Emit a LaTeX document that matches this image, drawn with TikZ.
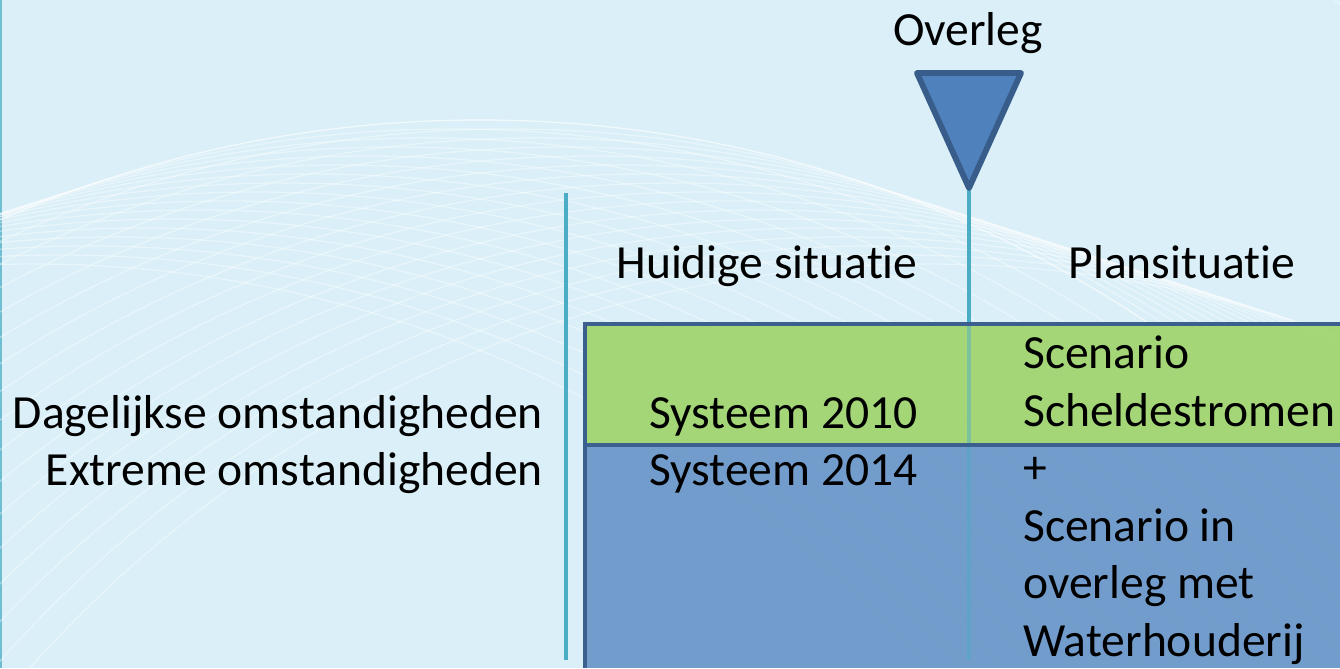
\documentclass[tikz,border=0pt]{standalone}
\usepackage{fontspec}
\setmainfont[RawFeature=-liga]{Carlito}
\usetikzlibrary{positioning}
\definecolor{bgblue}{HTML}{DAEFF7}
\definecolor{tealline}{HTML}{4BACC6}
\definecolor{rowgreen}{HTML}{A0D46E}
\definecolor{rowblue}{HTML}{6A96C8}
\definecolor{edgeblue}{HTML}{3B5F8F}
\definecolor{triblue}{HTML}{4F81BD}
\definecolor{triedge}{HTML}{385D8A}
\tikzset{x=0.03cm, y=-0.03cm,
    every node/.style={
        font=\fontsize{40.6}{49}\selectfont,
        inner sep=0pt},
    label/.style={anchor=base},
    celltext/.style={anchor=base west},
    mesh/.style={
        draw=white,
        opacity=0.4,
        line width=1.1pt},
    divider/.style={
        draw=tealline,
        line width=4.2pt},
    rowline/.style={
        draw=edgeblue,
        line width=3.6pt},
    marker/.style={
        fill=triblue,
        draw=triedge,
        line width=5pt,
        line join=round}}

\begin{document}
\begin{tikzpicture}
        \useasboundingbox (0,0) rectangle (1340,668);
        \fill[bgblue] (0,0) rectangle (1340,668);
        \draw[tealline!80!white, line width=2pt] (1,0) -- (1,668);

        % background mesh
        \begin{scope}
            \clip (0,0) rectangle (1340,668);
            \foreach \i in {0,...,16} {
                \draw[mesh] (480+\i*28,1320+\i*9) circle (1200);
                \draw[mesh] (480-\i*28,1320+\i*9) circle (1200);
            }
            \foreach \i in {0,...,6} {
                \draw[mesh] (1750+\i*30,-500) circle (650);
            }
        \end{scope}

        % columns and marker
        \coordinate (lefttop) at (566,193);
        \coordinate (leftbot) at (566,660);
        \coordinate (tip) at (969,188);
        \coordinate (midbot) at (969,660);
        \draw[divider] (lefttop) -- (leftbot);
        \draw[divider] (tip) -- (969,324);

        \node[label] (overleg) at (968,45) {Overleg};
        \draw[marker] (917,73) -- (1021,73) -- (tip) -- cycle;

        \node[label] (huidig) at (767,278) {Huidige situatie};
        \node[label] (plan) at (1182,278) {Plansituatie};

        % table
        \fill[rowgreen, fill opacity=0.92] (585,324) rectangle (1340,445);
        \fill[rowblue, fill opacity=0.92] (585,445) rectangle (1340,668);
        \draw[divider, opacity=0.45] (969,324) -- (midbot);
        \draw[rowline] (1340,324) -- (585,324) -- (585,668);
        \draw[rowline] (585,445) -- (1340,445);

        \node[celltext] (sys10) at (649,428) {Systeem 2010};
        \node[celltext] (sys14) at (649,485) {Systeem 2014};

        \node[anchor=base east] (daily) at (543,428) {Dagelijkse omstandigheden};
        \node[anchor=base east] (extreme) at (543,485) {Extreme omstandigheden};

        \node[celltext] (scen) at (1023,368) {Scenario};
        \node[celltext] (schelde) at (1023,426) {Scheldestromen};
        \node[celltext] (plus) at (1023,483.5) {+};
        \node[celltext] (scenin) at (1023,541) {Scenario in};
        \node[celltext] (met) at (1023,598.5) {overleg met};
        \node[celltext] (water) at (1023,656) {Waterhouderij};
    \end{tikzpicture}
\end{document}
